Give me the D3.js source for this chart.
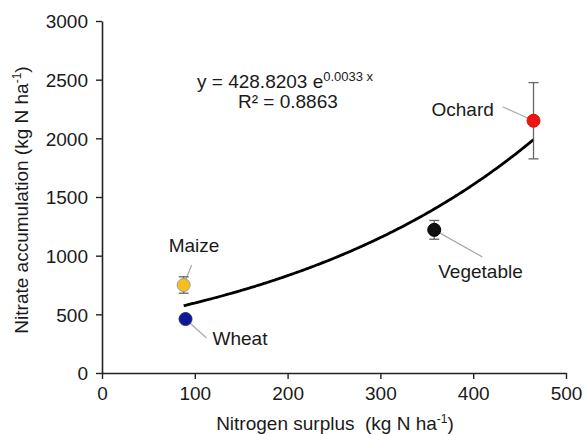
<!DOCTYPE html>
<html>
<head>
	<title>nitrate accumulation</title>
	<script src="https://cdnjs.cloudflare.com/ajax/libs/d3/7.8.5/d3.min.js"></script>
	<style>
		body { margin:0; background:#fff; }
		text { font-family: Arial, "Liberation Sans", sans-serif; fill:#1a1a1a; white-space: pre; }
	</style>
</head>
<body>
	<svg width="587" height="435"></svg>
	<script type="text/javascript">

		// crop systems
		var crops = ["Maize", "Wheat", "Vegetable", "Ochard"];
		var surplus = [88, 90, 358, 465];
		var nitrate = [750, 460, 1220, 2150];
		var errors = [70, 0, 80, 325];
		var colors = ["#f4c020", "#0b1a9c", "#111111", "#ee1414"];
		var strokes = ["#9a9a9a", "#2a2a60", "#000000", "#d01010"];

		var xTicks = [0, 100, 200, 300, 400, 500];
		var yTicks = [0, 500, 1000, 1500, 2000, 2500, 3000];

		// exponential trendline y = a e^(b x)
		var fitA = 428.8203, fitB = 0.0033;
		var fitRange = [88, 465];

		// where each label sits relative to its point (dx, dy of text, leader end)
		var labelPos = [
			{dx: -15, dy: -33, lx: 8, ly: -20},
			{dx: 27, dy: 26, lx: 21, ly: 19},
			{dx: 4, dy: 48, lx: 48, ly: 27},
			{dx: -102, dy: -5, lx: -31, ly: -14}
		];

		var svg = d3.select("svg");
		var x = d3.scaleLinear().domain([0, 500]).range([102, 566]);
		var y = d3.scaleLinear().domain([0, 3000]).range([373, 21]);

		var xAxis = svg.append("g").attr("transform", "translate(0,373)")
			.call(d3.axisBottom(x).tickValues(xTicks).tickFormat(d3.format("d")).tickSize(6).tickPadding(7).tickSizeOuter(0));
		var yAxis = svg.append("g").attr("transform", "translate(102,0)")
			.call(d3.axisLeft(y).tickValues(yTicks).tickFormat(d3.format("d")).tickSize(6).tickPadding(8).tickSizeOuter(0));

		[xAxis, yAxis].forEach(function(g) {
			g.select(".domain").attr("stroke", "#222").attr("stroke-width", 1.6);
			g.selectAll(".tick line").attr("stroke", "#222").attr("stroke-width", 1.4);
			g.selectAll(".tick text").style("font-size", "19px").attr("fill", "#1a1a1a")
				.attr("font-family", "Arial, 'Liberation Sans', sans-serif");
		});
		yAxis.selectAll(".tick text").attr("dy", "0.36em");
		xAxis.selectAll(".tick text").attr("dy", "0.72em");

		// axis titles
		var xt = svg.append("text").attr("x", 335).attr("y", 430).attr("text-anchor", "middle")
			.style("font-size", "19px");
		xt.append("tspan").text("Nitrogen surplus  (kg N ha");
		xt.append("tspan").text("-1").attr("dy", -7).style("font-size", "12px");
		xt.append("tspan").text(")").attr("dy", 7);

		var yt = svg.append("text").attr("transform", "translate(28,200) rotate(-90)")
			.attr("text-anchor", "middle").style("font-size", "19px");
		yt.append("tspan").text("Nitrate accumulation (kg N ha");
		yt.append("tspan").text("-1").attr("dy", -7).style("font-size", "12px");
		yt.append("tspan").text(")").attr("dy", 7);

		// trendline
		var fitXs = d3.range(fitRange[0], fitRange[1] + 0.1, 2);
		if (fitXs[fitXs.length - 1] < fitRange[1]) fitXs.push(fitRange[1]);
		var line = d3.line()
			.x(function(d) { return x(d) })
			.y(function(d) { return y(fitA * Math.exp(fitB * d)) })
			.curve(d3.curveMonotoneX);
		svg.append("path").datum(fitXs).attr("d", line)
			.attr("fill", "none").attr("stroke", "#000").attr("stroke-width", 2.8);

		// equation
		var eq = svg.append("text").attr("x", 197).attr("y", 88).style("font-size", "19px");
		eq.append("tspan").text("y = 428.8203 e");
		eq.append("tspan").text("0.0033 x").attr("dy", -7).style("font-size", "13px");
		svg.append("text").attr("x", 238).attr("y", 108).style("font-size", "19px").text("R\u00b2 = 0.8863");

		var data = crops.map(function(c, i) {
			return {name: c, sx: surplus[i], ny: nitrate[i], err: errors[i], fill: colors[i], stroke: strokes[i], lab: labelPos[i]};
		});

		// leader lines
		svg.selectAll(".leader").data(data).enter().append("line")
			.attr("x1", function(d) { return x(d.sx) })
			.attr("y1", function(d) { return y(d.ny) })
			.attr("x2", function(d) { return x(d.sx) + d.lab.lx })
			.attr("y2", function(d) { return y(d.ny) + d.lab.ly })
			.attr("stroke", "#a8a8a8").attr("stroke-width", 1.2);

		// error bars
		var eb = svg.selectAll(".err").data(data.filter(function(d) { return d.err > 0 })).enter().append("g")
			.attr("stroke", "#666").attr("stroke-width", 1.3);
		eb.append("line")
			.attr("x1", function(d) { return x(d.sx) }).attr("x2", function(d) { return x(d.sx) })
			.attr("y1", function(d) { return y(d.ny - d.err) }).attr("y2", function(d) { return y(d.ny + d.err) });
		eb.selectAll(".cap").data(function(d) { return [d.ny - d.err, d.ny + d.err].map(function(v) { return {sx: d.sx, v: v} }) })
			.enter().append("line")
			.attr("x1", function(d) { return x(d.sx) - 5 }).attr("x2", function(d) { return x(d.sx) + 5 })
			.attr("y1", function(d) { return y(d.v) }).attr("y2", function(d) { return y(d.v) });

		svg.selectAll(".pt").data(data).enter().append("circle")
			.attr("cx", function(d) { return x(d.sx) })
			.attr("cy", function(d) { return y(d.ny) })
			.attr("r", 6.5)
			.attr("fill", function(d) { return d.fill })
			.attr("stroke", function(d) { return d.stroke })
			.attr("stroke-width", 1);

		svg.selectAll(".lab").data(data).enter().append("text")
			.attr("x", function(d) { return x(d.sx) + d.lab.dx })
			.attr("y", function(d) { return y(d.ny) + d.lab.dy })
			.style("font-size", "19px")
			.text(function(d) { return d.name });
	</script>
</body>
</html>
